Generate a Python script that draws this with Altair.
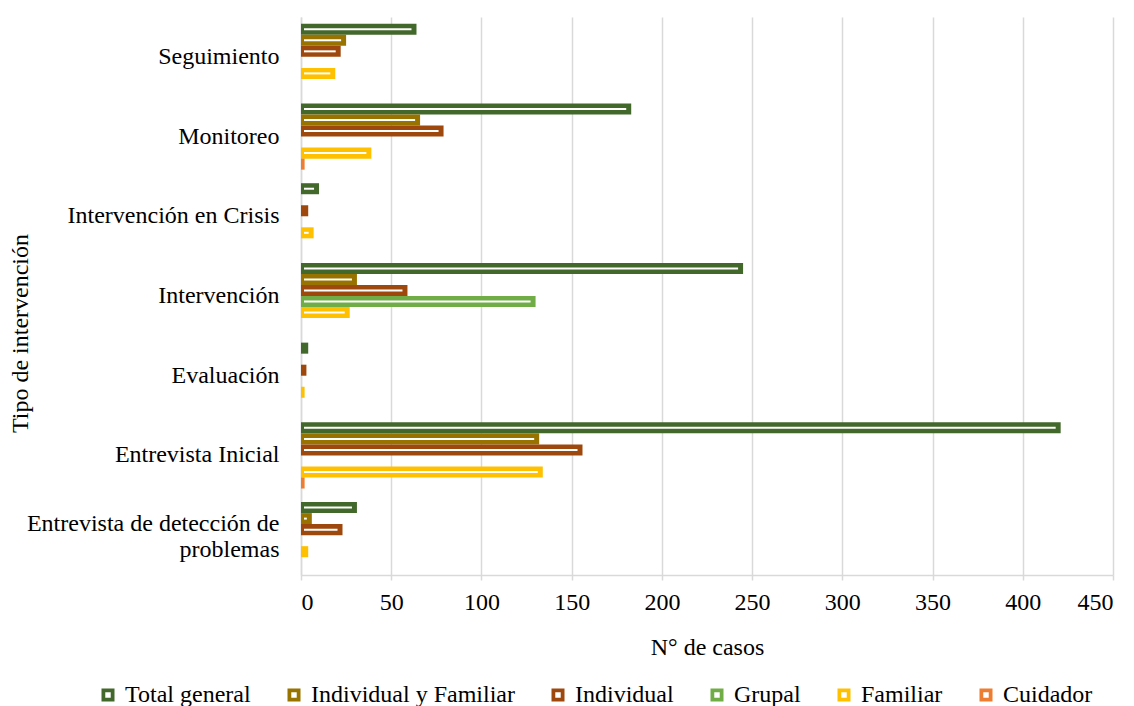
import altair as alt
import pandas as pd

# Intervention types (top to bottom) and case counts per modality
categories = [
    "Seguimiento",
    "Monitoreo",
    "Intervención en Crisis",
    "Intervención",
    "Evaluación",
    "Entrevista Inicial",
    "Entrevista de detección de problemas",
]
series = ["Total general", "Individual y Familiar", "Individual", "Grupal", "Familiar", "Cuidador"]
colors = ["#43682B", "#997300", "#9E480E", "#70AD47", "#FFC000", "#ED7D31"]

total_general = [64, 183, 10, 245, 4, 421, 31]
individual_familiar = [25, 66, 0, 31, 0, 132, 6]
individual = [22, 79, 4, 59, 3, 156, 23]
grupal = [0, 0, 0, 130, 0, 0, 0]
familiar = [19, 39, 7, 27, 2, 134, 4]
cuidador = [0, 2, 0, 0, 0, 2, 0]

x_ticks = [0, 50, 100, 150, 200, 250, 300, 350, 400, 450]

values_by_series = [total_general, individual_familiar, individual, grupal, familiar, cuidador]
rows = []
for s, vals in zip(series, values_by_series):
    for c, v in zip(categories, vals):
        rows.append({"tipo": c, "serie": s, "casos": v})
df = pd.DataFrame(rows)

FONT = "Liberation Serif"
FS = 24
GRID = "#D9D9D9"
LONG = "Entrevista de detección de problemas"

# square frame with a hollow centre (outer ring clockwise, inner hole counter-clockwise)
RING = "M-1,-1L1,-1L1,1L-1,1Z M-0.42,-0.42L-0.42,0.42L0.42,0.42L0.42,-0.42Z"

y_enc = alt.Y(
    "tipo:N",
    sort=categories,
    scale=alt.Scale(paddingInner=0.17, paddingOuter=0.085),
    axis=alt.Axis(
        title="Tipo de intervención",
        titleX=-281,
        titleY=316,
        titleAngle=-90,
        titleAlign="center",
        titleBaseline="middle",
        labelExpr=f"datum.value == '{LONG}' ? ['Entrevista de detección de', 'problemas'] : datum.value",
        labelOffset={"condition": {"test": f"datum.value == '{LONG}'", "value": -11}, "value": 0},
        labelPadding=22,
        labelFont=FONT,
        ticks=False,
        domainColor=GRID,
        domainWidth=1.5,
        grid=False,
        labelLimit=400,
    ),
)
yoff_enc = alt.YOffset("serie:N", sort=series, scale=alt.Scale(paddingInner=0, paddingOuter=0))

x_enc = alt.X(
    "casos:Q",
    scale=alt.Scale(domain=[0, 450], nice=False),
    axis=alt.Axis(
        title="N° de casos",
        values=x_ticks,
        grid=True,
        gridColor=GRID,
        gridWidth=1.5,
        domainColor=GRID,
        domainWidth=1.5,
        tickColor=GRID,
        tickWidth=1.5,
        tickSize=5,
        labelPadding=10,
        labelFont=FONT,
        titlePadding=21,
    ),
)

color_enc = alt.Color(
    "serie:N",
    sort=series,
    scale=alt.Scale(domain=series, range=colors),
    legend=alt.Legend(
        title=None,
        orient="none",
        direction="horizontal",
        legendX=-205,
        legendY=666,
        symbolType=RING,
        symbolSize=169,
        symbolStrokeWidth=0,
        symbolOpacity=1,
        columnPadding=31,
        labelOffset=5,
        labelLimit=400,
        labelFont=FONT,
        labelFontSize=FS,
        columns=6,
    ),
)

bars = alt.Chart(df).mark_bar(opacity=1).encode(
    y=y_enc, yOffset=yoff_enc, x=x_enc, color=color_enc
)

# thin white stripe running inside each bar
stripes = (
    alt.Chart(df)
    .transform_filter("datum.casos >= 6")
    .transform_calculate(zero="0")
    .mark_rule(color="white", strokeWidth=2, xOffset=3, x2Offset=-5)
    .encode(
        y=alt.Y("tipo:N", sort=categories),
        yOffset=alt.YOffset("serie:N", sort=series),
        x=alt.X("zero:Q"),
        x2="casos:Q",
    )
)

chart = (
    alt.layer(bars, stripes)
    .properties(
        width=812,
        height=558,
        autosize=alt.AutoSizeParams(type="none"),
        padding={"left": 301, "top": 17, "right": 21, "bottom": 131},
    )
    .configure_view(stroke=None)
    .configure_axis(
        labelFont=FONT,
        titleFont=FONT,
        labelFontSize=FS,
        titleFontSize=FS,
        labelColor="black",
        titleColor="black",
        titleFontWeight="normal",
    )
    .configure_legend(labelFont=FONT, labelFontSize=FS, labelColor="black")
)

chart.save("out.html", embed_options={"renderer": "svg", "actions": False})
